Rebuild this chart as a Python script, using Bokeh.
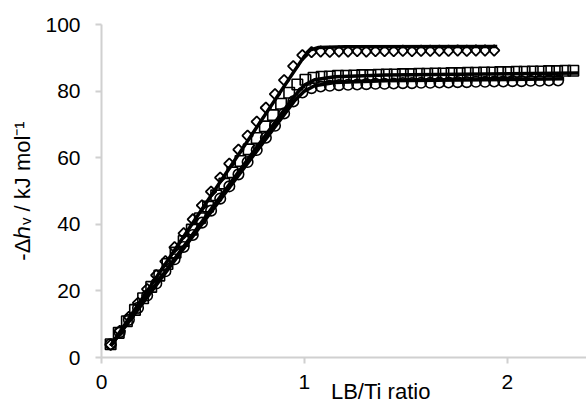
import math
from bokeh.plotting import figure
from bokeh.models import Range1d, FixedTicker
from bokeh.embed import file_html
from bokeh.resources import INLINE

# ---- data ----
dia_x = [0.045, 0.09, 0.135, 0.18, 0.225, 0.27, 0.315, 0.36, 0.405, 0.45, 0.495, 0.54, 0.585,
         0.63, 0.675, 0.72, 0.765, 0.81, 0.855, 0.9, 0.945, 0.99, 1.035, 1.08, 1.125, 1.17,
         1.215, 1.26, 1.305, 1.35, 1.395, 1.44, 1.485, 1.53, 1.575, 1.62, 1.665, 1.71, 1.755,
         1.8, 1.845, 1.89, 1.935]
dia_y = [3.8, 8.0, 12.2, 16.4, 20.5, 24.7, 28.9, 33.1, 37.3, 41.5, 45.7, 49.8, 54.0,
         58.2, 62.4, 66.6, 70.8, 75.0, 79.1, 83.3, 87.5, 90.8, 91.7, 91.9, 91.8, 91.9,
         91.9, 92.0, 91.9, 92.0, 92.0, 92.0, 92.1, 92.0, 92.1, 92.1, 92.1, 92.1, 92.2,
         92.1, 92.2, 92.2, 92.2]

sq_x = [0.045, 0.085, 0.125, 0.165, 0.205, 0.245, 0.285, 0.325, 0.365, 0.405, 0.445, 0.485,
        0.525, 0.565, 0.605, 0.645, 0.685, 0.725, 0.765, 0.805, 0.845, 0.885, 0.925, 0.965,
        1.005, 1.045, 1.085, 1.125, 1.165, 1.205, 1.245, 1.285, 1.325, 1.365, 1.405, 1.445,
        1.485, 1.525, 1.565, 1.605, 1.645, 1.685, 1.725, 1.765, 1.805, 1.845, 1.885, 1.925,
        1.965, 2.005, 2.045, 2.085, 2.125, 2.165, 2.205, 2.245, 2.285, 2.325]
sq_y = [4.0, 7.4, 10.9, 14.3, 17.8, 21.2, 24.6, 28.1, 31.5, 35.0, 38.4, 41.8,
        45.3, 48.7, 52.2, 55.6, 59.0, 62.5, 65.9, 69.4, 72.8, 76.2, 79.5, 82.0,
        83.4, 84.0, 84.3, 84.4, 84.6, 84.6, 84.7, 84.8, 84.8, 84.9, 85.0, 85.0,
        85.1, 85.1, 85.2, 85.2, 85.3, 85.3, 85.4, 85.4, 85.5, 85.5, 85.6, 85.6,
        85.7, 85.7, 85.8, 85.8, 85.9, 85.9, 86.0, 86.0, 86.1, 86.1]

ci_x = [0.045, 0.09, 0.135, 0.18, 0.225, 0.27, 0.315, 0.36, 0.405, 0.45, 0.495, 0.54, 0.585,
        0.63, 0.675, 0.72, 0.765, 0.81, 0.855, 0.9, 0.945, 0.99, 1.035, 1.08, 1.125, 1.17,
        1.215, 1.26, 1.305, 1.35, 1.395, 1.44, 1.485, 1.53, 1.575, 1.62, 1.665, 1.71, 1.755,
        1.8, 1.845, 1.89, 1.935, 1.98, 2.025, 2.07, 2.115, 2.16, 2.205, 2.25]
ci_y = [4.0, 7.6, 11.3, 14.9, 18.6, 22.2, 25.9, 29.5, 33.2, 36.8, 40.5, 44.1, 47.7,
        51.4, 55.0, 58.7, 62.3, 66.0, 69.6, 73.3, 76.9, 79.6, 80.9, 81.4, 81.6, 81.8,
        81.9, 82.0, 82.1, 82.2, 82.2, 82.3, 82.4, 82.4, 82.5, 82.5, 82.6, 82.6, 82.7,
        82.7, 82.8, 82.8, 82.9, 82.9, 83.0, 83.0, 83.1, 83.1, 83.2, 83.2]

fit_dia_x = [0.045, 0.95, 1.0, 1.03, 1.07, 1.2, 1.95]
fit_dia_y = [3.5, 86.0, 90.5, 92.4, 93.1, 93.3, 93.4]
fit_sq_x = [0.045, 0.95, 1.0, 1.05, 1.15, 1.4, 2.35]
fit_sq_y = [3.5, 78.5, 81.8, 83.4, 84.3, 84.8, 85.4]
fit_ci_x = [0.045, 0.95, 1.0, 1.05, 1.15, 1.4, 2.28]
fit_ci_y = [3.5, 77.0, 80.0, 81.6, 82.6, 83.1, 83.7]

x_ticks = [0, 1, 2]
y_ticks = [0, 20, 40, 60, 80, 100]
x_title = "LB/Ti ratio"
y_title = "-\u0394\u210e\u1d65 / kJ mol\u207b\u00b9"

# ---- layout ----
W, H = 586, 406
L, R, T, B = 101, 586, 24, 357
XMAX, YMAX = 2.39, 100
FONT = "Liberation Sans"

p = figure(width=W, height=H, output_backend="svg", toolbar_location=None,
           x_range=Range1d(0, XMAX), y_range=Range1d(0, YMAX),
           min_border_left=L, min_border_right=W - R, min_border_top=T,
           min_border_bottom=H - B, title=None)
p.outline_line_color = None
p.xgrid.visible = False
p.ygrid.visible = False
p.background_fill_color = "white"
p.border_fill_color = "white"

for ax, ticks in ((p.xaxis[0], x_ticks), (p.yaxis[0], y_ticks)):
    ax.ticker = FixedTicker(ticks=ticks)
    ax.axis_line_color = "#d0d0d0"
    ax.axis_line_width = 2
    ax.major_tick_line_color = "#d0d0d0"
    ax.major_tick_line_width = 2
    ax.major_tick_out = 6
    ax.major_tick_in = 0
    ax.minor_tick_line_color = None
    ax.major_label_text_font = FONT
    ax.major_label_text_font_size = "21px"
    ax.major_label_text_color = "#000000"
    ax.axis_label_text_font = FONT
    ax.axis_label_text_font_size = "22px"
    ax.axis_label_text_font_style = "normal"
    ax.axis_label_text_color = "#000000"
p.xaxis.major_label_standoff = 11
p.yaxis.major_label_standoff = 15

# x title shifted right of the axis centre (padding with no-break spaces)
p.xaxis.axis_label = "\u00a0" * 12 + x_title
p.xaxis.axis_label_standoff = -13
p.yaxis.axis_label = y_title
p.yaxis.axis_label_standoff = 7

# fit lines
for fx, fy in ((fit_dia_x, fit_dia_y), (fit_sq_x, fit_sq_y), (fit_ci_x, fit_ci_y)):
    p.line(fx, fy, line_color="black", line_width=3.5)

# markers
p.scatter(dia_x, dia_y, marker="square", size=7.5, angle=math.pi / 4,
          fill_color=None, line_color="black", line_width=1.8)
p.scatter(sq_x, sq_y, marker="square", size=10.5,
          fill_color=None, line_color="black", line_width=1.6)
p.scatter(ci_x, ci_y, marker="circle", size=10.5,
          fill_color=None, line_color="black", line_width=1.6)

open("out.html", "w").write(file_html(p, INLINE))
